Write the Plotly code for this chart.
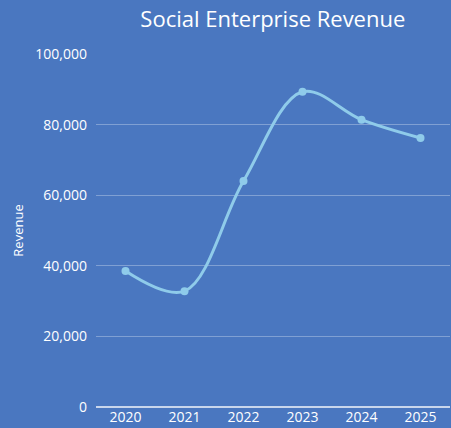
import plotly.graph_objects as go

years = ["2020", "2021", "2022", "2023", "2024", "2025"]
revenue = [38500, 32800, 64000, 89300, 81400, 76200]
y_ticks = [0, 20000, 40000, 60000, 80000, 100000]

bg = "#4A77C0"
fig = go.Figure()
fig.add_trace(go.Scatter(
    x=years, y=revenue, mode="lines+markers",
    line=dict(color="#8FCBEA", width=3, shape="spline", smoothing=1),
    marker=dict(color="#8FCBEA", size=8),
    showlegend=False,
))
fig.update_layout(
    width=451, height=428,
    paper_bgcolor=bg, plot_bgcolor=bg,
    margin=dict(l=96, r=1, t=54, b=21),
    font=dict(family="Open Sans, sans-serif", color="white", size=14),
    title=dict(text="Social Enterprise Revenue", x=0.605, xanchor="center", y=0.955, yanchor="middle",
               font=dict(size=22, color="white")),
    xaxis=dict(type="category", range=[-0.5, 5.5], showgrid=False, zeroline=False,
               showline=False, ticks="", tickfont=dict(size=14, color="white")),
    yaxis=dict(range=[0, 100000], tickvals=y_ticks, tickformat=",", showgrid=True,
               gridcolor="rgba(255,255,255,0.3)", gridwidth=1, zeroline=True,
               zerolinecolor="rgba(255,255,255,0.7)", zerolinewidth=1.5,
               ticks="", ticklabelstandoff=8, tickfont=dict(size=14, color="white"),
               title=dict(text="Revenue", font=dict(size=13, color="white"), standoff=8)),
)
fig.write_html("out.html", config={"displayModeBar": False},
               post_script="document.body.style.margin='0';document.body.style.overflow='hidden';")
